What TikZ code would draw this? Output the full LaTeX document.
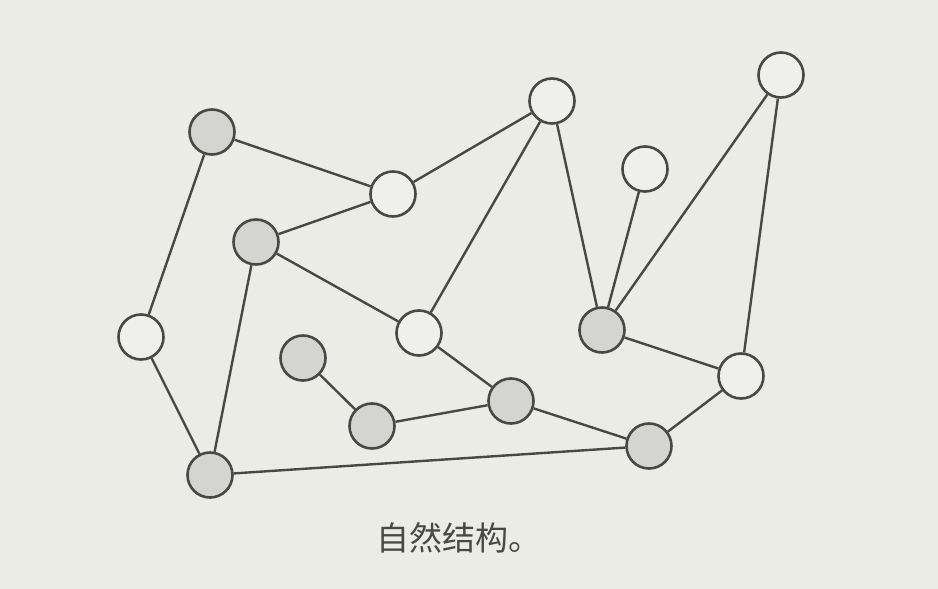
\documentclass[tikz,border=0pt]{standalone}
\usepackage{fontspec}
\newfontfamily\cjk{Noto Sans CJK SC}
\definecolor{bgc}{RGB}{236,236,231}
\definecolor{grayfill}{RGB}{212,213,209}
\definecolor{whitefill}{RGB}{239,239,235}
\definecolor{inkc}{RGB}{72,72,70}
\tikzset{
  vert/.style={circle, draw=inkc, line width=2.6pt, minimum size=45pt, inner sep=0pt},
  gv/.style={vert, fill=grayfill},
  wv/.style={vert, fill=whitefill},
  edge/.style={draw=inkc, line width=2.4pt},
  caption/.style={font=\cjk\fontsize{33}{38}\selectfont, text=inkc, inner sep=0pt}
}
\begin{document}
\begin{tikzpicture}[x=1pt,y=-1pt]
\fill[bgc] (0,0) rectangle (938,589);
\useasboundingbox (0,0) rectangle (938,589);
\node[gv] (A) at (212,132) {};
\node[wv] (B) at (393,194) {};
\node[wv] (C) at (552,101) {};
\node[wv] (D) at (781,75) {};
\node[wv] (E) at (645,169) {};
\node[gv] (F) at (256,242) {};
\node[wv] (G) at (141,337) {};
\node[wv] (H) at (419,333) {};
\node[gv] (I) at (602,330) {};
\node[gv] (J) at (303,358) {};
\node[gv] (K) at (372,426) {};
\node[gv] (L) at (511,401) {};
\node[wv] (M) at (741,376) {};
\node[gv] (N) at (649,446) {};
\node[gv] (O) at (210,475) {};
\foreach \u/\v in {A/B, A/G, B/C, B/F, F/H, F/O, G/O, C/H, C/I, E/I, D/I, D/M, I/M, M/N, H/L, L/N, L/K, K/J, O/N}
  \draw[edge] (\u) -- (\v);
\node[caption] (cap) at (459,538) {自然结构。};
\end{tikzpicture}
\end{document}
